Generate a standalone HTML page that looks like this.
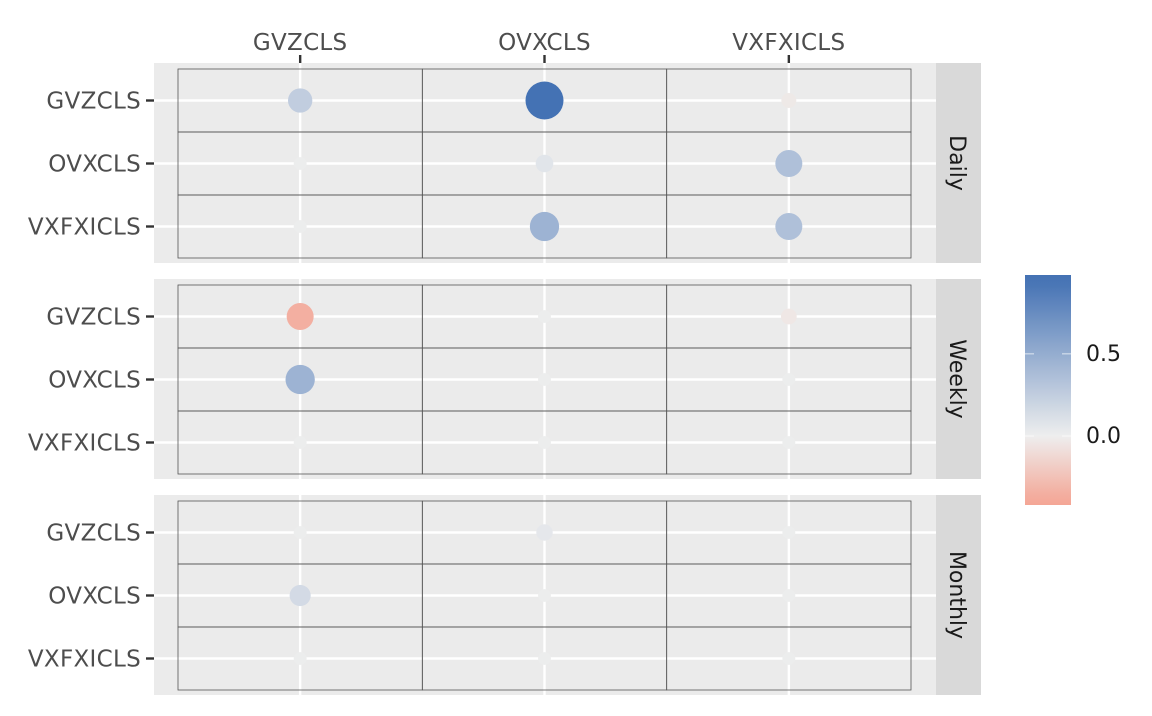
<!DOCTYPE html>
<html><head><meta charset="utf-8"><style>
body{margin:0;background:#fff;}
svg text{font-family:"DejaVu Sans","Liberation Sans",sans-serif;font-size:23px;}
</style></head><body>
<svg id="chart" width="1152" height="711" xmlns="http://www.w3.org/2000/svg"></svg>
<script>
const categories = ["GVZCLS","OVXCLS","VXFXICLS"];
const facets = ["Daily","Weekly","Monthly"];
// values[facet][row][col]
const dailyValues = [[0.25,0.95,-0.03],[0.01,0.07,0.35],[0.01,0.45,0.35]];
const weeklyValues = [[-0.35,0.01,-0.04],[0.45,0.01,0.01],[0.01,0.01,0.01]];
const monthlyValues = [[0.01,0.05,0.01],[0.15,0.01,0.01],[0.01,0.01,0.01]];
const legendTicks = [0.5,0.0];
const allValues = [dailyValues, weeklyValues, monthlyValues];

const NS="http://www.w3.org/2000/svg";
const svg=document.getElementById('chart');
function el(t,a,p){const e=document.createElementNS(NS,t);for(const k in a)e.setAttribute(k,a[k]);(p||svg).appendChild(e);return e;}
const vmin=-0.42, vmax=0.98;
function lerp(a,b,t){return a.map((x,i)=>Math.round(x+(b[i]-x)*t));}
function color(v){const lo=[244,166,150],mid=[238,238,238],hi=[68,114,180];
 let c= v>=0? lerp(mid,hi,Math.min(1,v/0.95)) : lerp(mid,lo,Math.min(1,-v/0.4));return `rgb(${c})`;}
function rad(v){return 5+14*Math.sqrt(Math.abs(v)/0.95);}
const xL=154,xR=936,innerL=178,innerR=911;
const colW=(innerR-innerL)/3;
function xPos(i){return innerL+colW*(i+0.5);}
const panelTops=[63,279,495],panelH=200,rowH=63;
function yPos(p,r){return panelTops[p]+6+rowH*(r+0.5);}
const TS='font-size:23px;letter-spacing:0.3px';
categories.forEach((c,i)=>{
 const t=el('text',{x:xPos(i),y:50,'text-anchor':'middle',style:TS,fill:'#4d4d4d'});t.textContent=c;
 
 el('line',{x1:xPos(i),x2:xPos(i),y1:55,y2:63,stroke:'#333','stroke-width':2.4});
});
facets.forEach((f,p)=>{
 const g=el('g',{});
 
 const top=panelTops[p];
 el('rect',{x:xL,y:top,width:xR-xL,height:panelH,fill:'#ebebeb'},g);
 categories.forEach((c,i)=>{el('line',{x1:xPos(i),x2:xPos(i),y1:top,y2:top+panelH,stroke:'#fff','stroke-width':2.4},g);});
 categories.forEach((c,r)=>{const y=yPos(p,r);el('line',{x1:xL,x2:xR,y1:y,y2:y,stroke:'#fff','stroke-width':2.4},g);
  el('line',{x1:146,x2:154,y1:y,y2:y,stroke:'#333','stroke-width':2.4});
  const t=el('text',{x:141,y:y+8,'text-anchor':'end',style:TS,fill:'#4d4d4d'});t.textContent=c;
  });
 for(let r=0;r<3;r++)for(let i=0;i<3;i++){
  el('rect',{x:innerL+colW*i,y:top+6+rowH*r,width:colW,height:rowH,fill:'none',stroke:'#555','stroke-width':0.8},g);}
 allValues[p].forEach((row,r)=>row.forEach((v,i)=>{
  const c=el('circle',{cx:xPos(i),cy:yPos(p,r),r:rad(v),fill:color(v)},g);
  
 }));
 el('rect',{x:936,y:top,width:45,height:panelH,fill:'#d9d9d9'});
 const st=el('text',{x:0,y:0,style:'font-size:22px',fill:'#1a1a1a','text-anchor':'middle',transform:`translate(950,${top+panelH/2}) rotate(90)`});
 st.textContent=f;
});
const defs=el('defs',{});const lg=el('linearGradient',{id:'lg',x1:0,y1:1,x2:0,y2:0},defs);
const lt=275,lb=505;
function ly(v){return lb-(v-vmin)/(vmax-vmin)*(lb-lt);}
for(let k=0;k<=20;k++){const v=vmin+(vmax-vmin)*k/20;el('stop',{offset:k/20,'stop-color':color(v)},lg);}
const lr=el('rect',{x:1025,y:lt,width:46,height:lb-lt,fill:'url(#lg)'});

legendTicks.forEach(v=>{const y=ly(v);
 el('line',{x1:1025,x2:1034,y1:y,y2:y,stroke:'#fff','stroke-width':1,opacity:0.7});
 el('line',{x1:1062,x2:1071,y1:y,y2:y,stroke:'#fff','stroke-width':1,opacity:0.7});
 const t=el('text',{x:1086,y:y+7,style:'font-size:22px',fill:'#1a1a1a'});t.textContent=v.toFixed(1);
 });
</script>
</body></html>
